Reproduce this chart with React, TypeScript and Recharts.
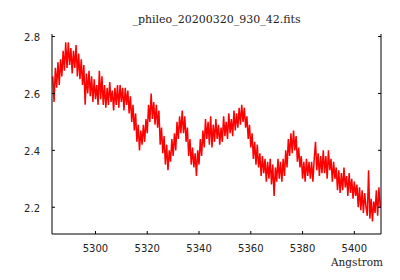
import React from 'react';
import { LineChart, Line, XAxis, YAxis } from 'recharts';

const TITLE = '_phileo_20200320_930_42.fits';
const X_LABEL = 'Angstrom';
const X_TICKS = [5300, 5320, 5340, 5360, 5380, 5400];
const Y_TICKS = [2.2, 2.4, 2.6, 2.8];
const X_DOMAIN: [number, number] = [5283.2, 5410.3];
const Y_DOMAIN: [number, number] = [2.106, 2.809];

const WAVE_START = 5283.5;
const WAVE_STEP = 0.5;

// 5283.5 - 5308.0
const FLUX_A = [
  2.66, 2.57, 2.69, 2.62, 2.71, 2.63, 2.72, 2.66, 2.75, 2.68,
  2.78, 2.69, 2.78, 2.70, 2.76, 2.67, 2.75, 2.69, 2.77, 2.66,
  2.74, 2.65, 2.72, 2.63, 2.70, 2.56, 2.67, 2.60, 2.68, 2.59,
  2.66, 2.57, 2.65, 2.58, 2.63, 2.56, 2.68, 2.58, 2.66, 2.56,
  2.63, 2.55, 2.62, 2.56, 2.64, 2.57, 2.61, 2.54, 2.62, 2.56,
];
// 5308.5 - 5333.0
const FLUX_B = [
  2.63, 2.55, 2.63, 2.57, 2.62, 2.54, 2.62, 2.56, 2.61, 2.53,
  2.59, 2.50, 2.56, 2.47, 2.53, 2.43, 2.49, 2.40, 2.47, 2.42,
  2.49, 2.43, 2.51, 2.46, 2.56, 2.50, 2.60, 2.51, 2.57, 2.49,
  2.56, 2.48, 2.54, 2.42, 2.48, 2.39, 2.45, 2.35, 2.42, 2.33,
  2.40, 2.36, 2.44, 2.38, 2.46, 2.40, 2.50, 2.44, 2.52, 2.46,
];
// 5333.5 - 5358.0
const FLUX_C = [
  2.54, 2.46, 2.52, 2.43, 2.48, 2.38, 2.44, 2.35, 2.41, 2.34,
  2.39, 2.31, 2.40, 2.35, 2.44, 2.38, 2.47, 2.41, 2.51, 2.44,
  2.50, 2.42, 2.52, 2.41, 2.49, 2.43, 2.51, 2.44, 2.49, 2.42,
  2.48, 2.43, 2.52, 2.45, 2.50, 2.44, 2.53, 2.46, 2.51, 2.45,
  2.54, 2.47, 2.53, 2.48, 2.55, 2.49, 2.56, 2.50, 2.55, 2.48,
];
// 5358.5 - 5383.0
const FLUX_D = [
  2.52, 2.44, 2.49, 2.41, 2.46, 2.37, 2.43, 2.35, 2.42, 2.34,
  2.39, 2.31, 2.38, 2.32, 2.37, 2.29, 2.36, 2.30, 2.37, 2.28,
  2.35, 2.24, 2.34, 2.29, 2.37, 2.30, 2.36, 2.29, 2.37, 2.31,
  2.40, 2.34, 2.44, 2.38, 2.46, 2.39, 2.47, 2.40, 2.45, 2.36,
  2.41, 2.34, 2.38, 2.30, 2.36, 2.29, 2.37, 2.31, 2.36, 2.30,
];
// 5383.5 - 5410.0
const FLUX_E = [
  2.36, 2.29, 2.37, 2.43, 2.33, 2.39, 2.31, 2.38, 2.32, 2.40,
  2.32, 2.38, 2.30, 2.40, 2.33, 2.37, 2.29, 2.36, 2.30, 2.34,
  2.26, 2.33, 2.25, 2.32, 2.26, 2.34, 2.27, 2.31, 2.24, 2.32,
  2.25, 2.30, 2.23, 2.29, 2.24, 2.28, 2.20, 2.27, 2.19, 2.26,
  2.18, 2.25, 2.20, 2.17, 2.33, 2.16, 2.23, 2.15, 2.22, 2.18,
  2.26, 2.17, 2.27, 2.20,
];

const FLUX = [...FLUX_A, ...FLUX_B, ...FLUX_C, ...FLUX_D, ...FLUX_E];
const data = FLUX.map((f, i) => ({ wave: WAVE_START + i * WAVE_STEP, flux: f }));

const TICK_LEN = 3;
const sansFont = "'DejaVu Sans', sans-serif";
const serifFont = "'DejaVu Serif', serif";

const BottomTick = (props: any) => {
  const { x, y, payload } = props;
  return (
    <g>
      <line x1={x} x2={x} y1={y} y2={y - TICK_LEN} stroke="#000" strokeWidth={1} />
      <text x={x} y={y + 14} textAnchor="middle" dominantBaseline="central" fontFamily={sansFont} fontSize={10} fill="#222">
        {payload.value}
      </text>
    </g>
  );
};

const TopTick = (props: any) => {
  const { x, y } = props;
  return <line x1={x} x2={x} y1={y} y2={y + TICK_LEN} stroke="#000" strokeWidth={1} />;
};

const LeftTick = (props: any) => {
  const { x, y, payload } = props;
  return (
    <g>
      <line x1={x} x2={x + TICK_LEN} y1={y} y2={y} stroke="#000" strokeWidth={1} />
      <text x={x - 12} y={y + 1} textAnchor="end" dominantBaseline="central" fontFamily={sansFont} fontSize={10} fill="#222">
        {Number(payload.value).toFixed(1)}
      </text>
    </g>
  );
};

const RightTick = (props: any) => {
  const { x, y } = props;
  return <line x1={x} x2={x - TICK_LEN} y1={y} y2={y} stroke="#000" strokeWidth={1} />;
};

export default function App() {
  return (
    <div style={{ position: 'absolute', left: 0, top: 0, width: 400, height: 280, background: '#fff' }}>
      <LineChart width={400} height={280} data={data} margin={{ top: 34, right: 18, bottom: 16, left: 0 }}>
        <XAxis
          xAxisId="b"
          dataKey="wave"
          type="number"
          domain={X_DOMAIN}
          ticks={X_TICKS}
          allowDataOverflow
          interval={0}
          height={30}
          tickLine={false}
          tickSize={0}
          tickMargin={0}
          axisLine={{ stroke: '#000', strokeWidth: 1 }}
          tick={BottomTick}
        />
        <XAxis
          xAxisId="t"
          orientation="top"
          dataKey="wave"
          type="number"
          domain={X_DOMAIN}
          ticks={X_TICKS}
          allowDataOverflow
          interval={0}
          height={0}
          tickLine={false}
          tickSize={0}
          tickMargin={0}
          axisLine={{ stroke: '#000', strokeWidth: 1 }}
          tick={TopTick}
        />
        <YAxis
          yAxisId="l"
          type="number"
          domain={Y_DOMAIN}
          ticks={Y_TICKS}
          allowDataOverflow
          interval={0}
          width={52}
          tickLine={false}
          tickSize={0}
          tickMargin={0}
          axisLine={{ stroke: '#000', strokeWidth: 1 }}
          tick={LeftTick}
        />
        <YAxis
          yAxisId="r"
          orientation="right"
          type="number"
          domain={Y_DOMAIN}
          ticks={Y_TICKS}
          allowDataOverflow
          interval={0}
          width={1}
          tickLine={false}
          tickSize={0}
          tickMargin={0}
          axisLine={{ stroke: '#000', strokeWidth: 1 }}
          tick={RightTick}
        />
        <Line
          xAxisId="t"
          yAxisId="r"
          dataKey="flux"
          stroke="none"
          dot={false}
          activeDot={false}
          isAnimationActive={false}
        />
        <Line
          xAxisId="b"
          yAxisId="l"
          dataKey="flux"
          type="linear"
          stroke="#ff0000"
          strokeWidth={1.5}
          strokeLinejoin="miter"
          dot={false}
          activeDot={false}
          isAnimationActive={false}
        />
      </LineChart>
      <div
        style={{
          position: 'absolute',
          left: 52,
          width: 329,
          top: 12,
          textAlign: 'center',
          fontFamily: serifFont,
          fontSize: 11,
          lineHeight: '16px',
          color: '#222',
          whiteSpace: 'nowrap',
        }}
      >
        {TITLE}
      </div>
      <div
        style={{
          position: 'absolute',
          right: 17,
          top: 254,
          fontFamily: serifFont,
          fontSize: 10.5,
          lineHeight: '16px',
          color: '#222',
          whiteSpace: 'nowrap',
        }}
      >
        {X_LABEL}
      </div>
    </div>
  );
}
